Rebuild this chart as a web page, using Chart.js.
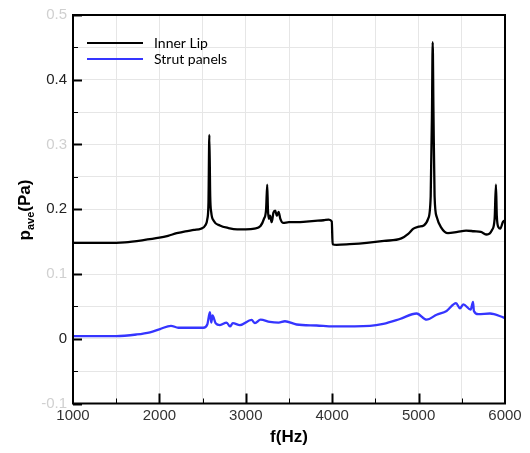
<!DOCTYPE html>
<html>
<head>
<meta charset="utf-8">
<script src="https://cdn.jsdelivr.net/npm/chart.js@4"></script>
<style>
  html, body { margin: 0; padding: 0; background: #fff; }
  #wrap { width: 530px; height: 453px; }
</style>
</head>
<body>
<div id="wrap"><canvas id="chart" width="530" height="453"></canvas></div>
<script>
// Frequency (Hz) / pressure (Pa) pairs
const innerLipHz = [1000, 1200, 1400, 1600, 1800, 2000, 2100, 2200, 2300, 2400, 2480, 2530, 2555, 2568, 2578, 2588, 2600, 2630, 2700, 2800, 2900, 3000, 3100, 3170, 3210, 3235, 3248, 3256, 3266, 3280, 3300, 3320, 3340, 3360, 3380, 3400, 3430, 3500, 3600, 3700, 3800, 3900, 3960, 3995, 4005, 4050, 4200, 4400, 4600, 4800, 4880, 4940, 5000, 5060, 5110, 5140, 5155, 5163, 5172, 5185, 5210, 5260, 5340, 5450, 5550, 5640, 5720, 5790, 5850, 5880, 5895, 5905, 5925, 5945, 5975, 6000];
const innerLipPa = [0.148, 0.148, 0.148, 0.149, 0.152, 0.156, 0.159, 0.163, 0.166, 0.168, 0.170, 0.175, 0.185, 0.21, 0.315, 0.22, 0.195, 0.182, 0.175, 0.171, 0.169, 0.169, 0.170, 0.174, 0.185, 0.2, 0.238, 0.2, 0.185, 0.19, 0.18, 0.195, 0.198, 0.19, 0.196, 0.185, 0.179, 0.180, 0.180, 0.181, 0.182, 0.183, 0.184, 0.181, 0.146, 0.145, 0.146, 0.148, 0.151, 0.155, 0.162, 0.170, 0.173, 0.175, 0.185, 0.22, 0.35, 0.458, 0.35, 0.22, 0.188, 0.172, 0.163, 0.165, 0.167, 0.166, 0.165, 0.161, 0.168, 0.185, 0.238, 0.19, 0.172, 0.170, 0.18, 0.183];

const strutHz = [1000, 1500, 1736, 1891, 2007, 2134, 2219, 2508, 2554, 2585, 2600, 2615, 2651, 2701, 2778, 2817, 2850, 2932, 3067, 3106, 3171, 3279, 3380, 3453, 3588, 3819, 4012, 4437, 4591, 4784, 4977, 5093, 5208, 5324, 5433, 5479, 5517, 5603, 5630, 5640, 5691, 5826, 5980, 6000];
const strutPa = [0.004, 0.004, 0.0066, 0.010, 0.015, 0.020, 0.017, 0.017, 0.022, 0.041, 0.025, 0.036, 0.024, 0.021, 0.025, 0.019, 0.024, 0.021, 0.029, 0.024, 0.0295, 0.026, 0.025, 0.027, 0.022, 0.0205, 0.019, 0.020, 0.023, 0.0305, 0.039, 0.0295, 0.037, 0.043, 0.055, 0.047, 0.053, 0.045, 0.057, 0.043, 0.038, 0.039, 0.033, 0.032];

const seriesNames = ['Inner Lip', 'Strut panels'];
const seriesColors = ['#000000', '#3535ff'];

const toPoints = (xs, ys) => xs.map((x, i) => ({ x: x, y: ys[i] }));

// frame, inward ticks, axis titles and legend
const decorPlugin = {
    id: 'decor',
    afterDraw(chart) {
        const { ctx, chartArea: a, scales } = chart;
        ctx.save();
        ctx.strokeStyle = '#000';
        ctx.lineWidth = 2;
        ctx.strokeRect(a.left, a.top, a.right - a.left, a.bottom - a.top);

        // y ticks
        for (let v = -0.1; v <= 0.5001; v += 0.05) {
            const y = Math.round(scales.y.getPixelForValue(v)) + 0.5;
            const major = Math.abs(Math.round(v * 100)) % 10 === 0;
            ctx.lineWidth = major ? 2 : 1;
            ctx.beginPath();
            ctx.moveTo(a.left, y);
            ctx.lineTo(a.left + (major ? 9 : 5), y);
            ctx.stroke();
        }
        // x ticks
        for (let v = 1500; v < 6000; v += 500) {
            const x = Math.round(scales.x.getPixelForValue(v)) + 0.5;
            const major = v % 1000 === 0;
            ctx.lineWidth = major ? 2 : 1;
            ctx.beginPath();
            ctx.moveTo(x, a.bottom);
            ctx.lineTo(x, a.bottom - (major ? 10 : 5));
            ctx.stroke();
        }

        // x title
        ctx.fillStyle = '#000';
        ctx.font = 'bold 17px "Liberation Sans", Arial, sans-serif';
        ctx.textAlign = 'center';
        ctx.textBaseline = 'middle';
        ctx.fillText('f(Hz)', (a.left + a.right) / 2, 437);

        // y title with subscript
        ctx.save();
        ctx.translate(25, 210);
        ctx.rotate(-Math.PI / 2);
        const big = 'bold 17px "Liberation Sans", Arial, sans-serif';
        const small = 'bold 11px "Liberation Sans", Arial, sans-serif';
        ctx.font = big;
        const w1 = ctx.measureText('p').width;
        const w3 = ctx.measureText('(Pa)').width;
        ctx.font = small;
        const w2 = ctx.measureText('ave').width;
        let x = -(w1 + w2 + w3) / 2;
        ctx.textAlign = 'left';
        ctx.textBaseline = 'alphabetic';
        ctx.font = big;
        ctx.fillText('p', x, 5);
        x += w1;
        ctx.font = small;
        ctx.fillText('ave', x, 9);
        x += w2;
        ctx.font = big;
        ctx.fillText('(Pa)', x, 5);
        ctx.restore();

        // legend
        const rows = [43, 59];
        ctx.font = '14px Lato, "Open Sans", sans-serif';
        ctx.textAlign = 'left';
        ctx.textBaseline = 'middle';
        seriesNames.forEach((name, i) => {
            ctx.strokeStyle = seriesColors[i];
            ctx.lineWidth = 2;
            ctx.beginPath();
            ctx.moveTo(87, rows[i]);
            ctx.lineTo(143, rows[i]);
            ctx.stroke();
            ctx.fillStyle = '#000';
            ctx.fillText(name, 154, rows[i]);
        });
        ctx.restore();
    }
};

const darkLabels = [0, 0.2, 0.4];

new Chart(document.getElementById('chart'), {
    type: 'line',
    data: {
        datasets: [
            {
                label: seriesNames[0],
                data: toPoints(innerLipHz, innerLipPa),
                borderColor: seriesColors[0],
                borderWidth: 2.3,
                pointRadius: 0,
                cubicInterpolationMode: 'monotone'
            },
            {
                label: seriesNames[1],
                data: toPoints(strutHz, strutPa),
                borderColor: seriesColors[1],
                borderWidth: 2.3,
                pointRadius: 0,
                cubicInterpolationMode: 'monotone'
            }
        ]
    },
    options: {
        responsive: false,
        animation: false,
        layout: { padding: { top: 10, right: 25, left: 0, bottom: 0 } },
        plugins: {
            legend: { display: false },
            tooltip: { enabled: false }
        },
        scales: {
            x: {
                type: 'linear',
                min: 1000,
                max: 6000,
                afterFit: s => { s.height = 49.5; },
                grid: { color: '#e6e6e6', drawTicks: false },
                border: { display: false },
                ticks: {
                    stepSize: 500,
                    padding: 3,
                    color: '#333',
                    font: { family: '"Liberation Sans", Arial, sans-serif', size: 15 },
                    callback: v => (v % 1000 === 0 ? String(v) : '')
                }
            },
            y: {
                min: -0.1,
                max: 0.5,
                afterFit: s => { s.width = 73; },
                grid: { color: '#e6e6e6', drawTicks: false },
                border: { display: false },
                ticks: {
                    stepSize: 0.05,
                    padding: 6,
                    font: { family: '"Liberation Sans", Arial, sans-serif', size: 15 },
                    color: c => {
                        const v = Math.round(c.tick.value * 10) / 10;
                        return darkLabels.includes(v) ? '#222' : '#d0d0d0';
                    },
                    callback: v => {
                        const k = Math.round(v * 100);
                        if (k % 10 !== 0) return '';
                        return String(k / 100);
                    }
                }
            }
        }
    },
    plugins: [decorPlugin]
});
</script>
</body>
</html>
